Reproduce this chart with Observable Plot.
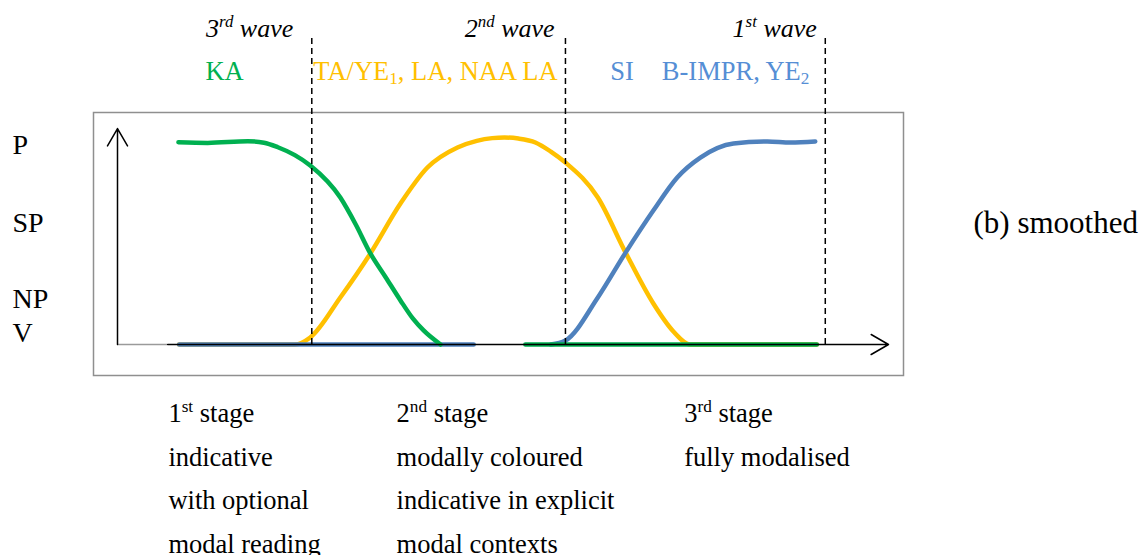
<!DOCTYPE html>
<html>
<head>
<meta charset="utf-8">
<script src="https://cdn.jsdelivr.net/npm/d3@7"></script>
<script src="https://cdn.jsdelivr.net/npm/@observablehq/plot@0.6"></script>
<style>
  html, body { margin: 0; padding: 0; background: #fff; }
  #chart svg, #chart svg text { font-family: "Liberation Serif", "Times New Roman", serif !important; }
</style>
</head>
<body>
<div id="chart"></div>
<script>
// ---------- data ----------
const levels = ["V", "NP", "SP", "P"];
const levelValues = [0.053, 0.222, 0.585, 0.966];

const boundaries = [25.2, 58.1, 91.8];
const waveLabels = ["3^{rd} wave", "2^{nd} wave", "1^{st} wave"];

const seriesLabels = ["KA", "TA/YE_{1}, LA, NAA LA", "SI", "B-IMPR, YE_{2}"];
const seriesLabelGroup = ["green", "yellow", "blue", "blue"];

const stageLabels = [
  "1^{st} stage\nindicative\nwith optional\nmodal reading",
  "2^{nd} stage\nmodally coloured\nindicative in explicit\nmodal contexts",
  "3^{rd} stage\nfully modalised"
];

const caption = "(b) smoothed";

// curves (x: progression 0-100, y: degree 0-1)
const greenX = [7.9, 11.7, 16.9, 19.0, 20.8, 23.0, 25.0, 28.9, 30.9, 32.8, 34.8, 36.7, 38.3, 39.7, 41.9];
const greenY = [0.977, 0.974, 0.982, 0.975, 0.953, 0.915, 0.865, 0.710, 0.580, 0.440, 0.324, 0.213, 0.126, 0.068, 0];
const greenTailX = [52.9, 90.7];
const greenTailY = [0, 0];

const yellowX = [8.0, 23.0, 25.0, 28.9, 32.8, 36.7, 40.2, 44.1, 46.6, 48.6, 50.2, 52.0, 54.2, 56.2, 58.1, 62.3, 65.9, 69.5, 72.1, 74.3, 90.7];
const yellowY = [0, 0, 0.034, 0.227, 0.440, 0.681, 0.855, 0.952, 0.984, 0.997, 1.0, 0.995, 0.976, 0.932, 0.879, 0.710, 0.444, 0.198, 0.063, 0, 0];

const blueHeadX = [8.0, 46.2];
const blueHeadY = [0, 0];
const blueX = [56.2, 58.1, 62.3, 65.9, 69.5, 72.6, 75.6, 79.9, 84.3, 87.3, 90.5];
const blueY = [0, 0.019, 0.227, 0.444, 0.647, 0.807, 0.903, 0.971, 0.981, 0.976, 0.981];

// ---------- layout & style ----------
const lineColor = {green: "#00B050", yellow: "#FFC000", blue: "#4F81BD"};
const textColor = {green: "#00B050", yellow: "#FFC000", blue: "#558ED5"};
const waveLabelX = [22.8, 56.7, 90.7];
const waveLabelY = 1.527;
const seriesLabelX = [11.4, 25.4, 63.9, 70.6];
const seriesLabelY = 1.319;
const stageX = [6.6, 36.2, 73.5];
const stageY = -0.226;

function rows(xs, ys, seg) { return xs.map((x, i) => ({x, y: ys[i], seg})); }
const yellowRows = rows(yellowX, yellowY, "y");
const blueRows = [...rows(blueHeadX, blueHeadY, "b0"), ...rows(blueX, blueY, "b1")];
const greenRows = [...rows(greenX, greenY, "g0"), ...rows(greenTailX, greenTailY, "g1")];

const font = "Liberation Serif";

const chart = Plot.plot({
  width: 1146,
  height: 555,
  marginLeft: 117,
  marginRight: 258,
  marginTop: 137,
  marginBottom: 211,
  x: {domain: [0, 100], axis: null},
  y: {domain: [0, 1], axis: null},
  style: {fontFamily: font, background: "white", overflow: "visible"},
  marks: [
    Plot.frame({stroke: "#8f8f8f", strokeWidth: 1.5, insetLeft: -24, insetRight: -15, insetTop: -25, insetBottom: -31}),
    Plot.line(yellowRows, {x: "x", y: "y", z: "seg", stroke: lineColor.yellow, strokeWidth: 4.5, curve: "monotone-x"}),
    Plot.line(blueRows, {x: "x", y: "y", z: "seg", stroke: lineColor.blue, strokeWidth: 4.5, curve: "monotone-x"}),
    Plot.line(greenRows, {x: "x", y: "y", z: "seg", stroke: lineColor.green, strokeWidth: 4.5, curve: "monotone-x"}),
    Plot.ruleY([0], {x1: 0, x2: 6.5, stroke: "#9a9a9a", strokeWidth: 1.5}),
    Plot.arrow([0], {x1: 6.5, x2: 100, y1: 0, y2: 0, stroke: "black", strokeWidth: 1.5, headLength: 20, headAngle: 60}),
    Plot.arrow([0], {x1: 0, x2: 0, y1: 0, y2: 1.043, stroke: "black", strokeWidth: 1.5, headLength: 20, headAngle: 60}),
    Plot.ruleX(boundaries, {y1: 0, y2: 1.493, stroke: "black", strokeWidth: 1.5, strokeDasharray: "6,4"}),
    Plot.text(levels, {y: (d, i) => levelValues[i], text: d => d, frameAnchor: "left", textAnchor: "start", dx: -105, fontSize: 28, fontFamily: font, fill: "black"}),
    Plot.text([caption], {y: () => levelValues[2], text: d => d, frameAnchor: "right", textAnchor: "start", dx: 85, fontSize: 31, fontFamily: font, fill: "black"}),
    Plot.text(waveLabels, {x: (d, i) => waveLabelX[i], y: () => waveLabelY, text: d => d, textAnchor: "end", fontSize: 26, fontStyle: "italic", fontFamily: font, fill: "black"}),
    Plot.text(seriesLabels, {x: (d, i) => seriesLabelX[i], y: () => seriesLabelY, text: d => d, textAnchor: "start", fontSize: 26.5, fontFamily: font, fill: (d, i) => textColor[seriesLabelGroup[i]]}),
    Plot.text(stageLabels, {x: (d, i) => stageX[i], y: () => stageY, text: d => d, textAnchor: "start", lineAnchor: "top", lineHeight: 1.64, fontSize: 26.5, fontFamily: font, fill: "black"})
  ]
});

// turn ^{..} and _{..} markup into real superscript / subscript tspans
function richText(svg) {
  const NS = "http://www.w3.org/2000/svg";
  const leaves = [...svg.querySelectorAll("text, tspan")].filter(el => el.children.length === 0 && /[\^_]\{/.test(el.textContent));
  for (const el of leaves) {
    const s = el.textContent;
    el.textContent = "";
    const re = /(\^|_)\{([^}]*)\}/g;
    let last = 0, m, pendingReset = null;
    const addNormal = (str) => {
      if (!str) return;
      const t = document.createElementNS(NS, "tspan");
      if (pendingReset) { t.setAttribute("dy", pendingReset); pendingReset = null; }
      t.textContent = str;
      el.appendChild(t);
    };
    while ((m = re.exec(s))) {
      addNormal(s.slice(last, m.index));
      const t = document.createElementNS(NS, "tspan");
      t.setAttribute("font-size", "65%");
      if (m[1] === "^") { t.setAttribute("dy", "-0.585em"); pendingReset = "0.38em"; }
      else { t.setAttribute("dy", "0.23em"); pendingReset = "-0.15em"; }
      t.textContent = m[2];
      el.appendChild(t);
      last = re.lastIndex;
    }
    addNormal(s.slice(last));
  }
}
richText(chart);
document.getElementById("chart").appendChild(chart);
</script>
</body>
</html>
